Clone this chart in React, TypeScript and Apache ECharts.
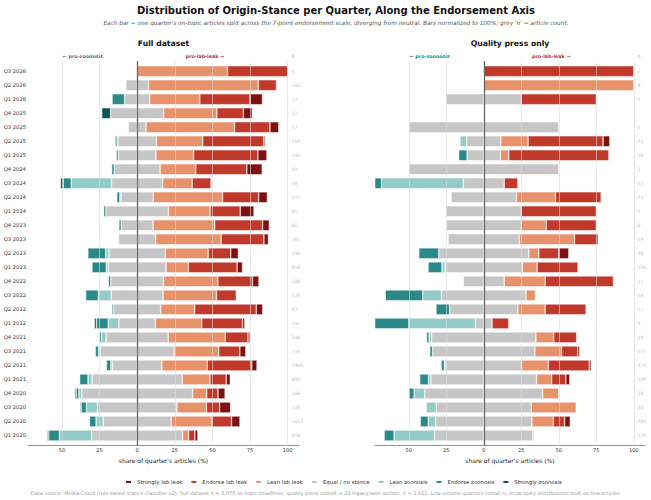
import React, { useEffect, useRef } from 'react';
import * as echarts from 'echarts';

const quarters = [
  'Q3 2026', 'Q2 2026', 'Q1 2026', 'Q4 2025', 'Q3 2025', 'Q2 2025', 'Q1 2025', 'Q4 2024', 'Q3 2024',
  'Q2 2024', 'Q1 2024', 'Q4 2023', 'Q3 2023', 'Q2 2023', 'Q1 2023', 'Q4 2022', 'Q3 2022', 'Q2 2022',
  'Q1 2022', 'Q4 2021', 'Q3 2021', 'Q2 2021', 'Q1 2021', 'Q4 2020', 'Q3 2020', 'Q2 2020', 'Q1 2020',
];

const tickValues = [-50, -25, 0, 25, 50, 75, 100];

// Full dataset (percent of quarter's articles)
const fullN = [5, 100, 12, 17, 17, 159, 145, 59, 56, 171, 65, 66, 161, 238, 818, 180, 126, 93, 141, 348, 734, 1969, 689, 106, 138, 1052, 410];
const fullStrongZoo = [0, 0, 0, 5.9, 0, 0, 0, 0, 1.8, 0, 0, 0, 0, 0, 0, 0, 0, 0, 1.4, 0, 0, 0, 0, 0.9, 0.7, 0, 0.9];
const fullEndorseZoo = [0, 0, 8.3, 0, 0, 0, 1.3, 1.7, 5.4, 2, 1.5, 1.5, 0, 11.8, 9.5, 1.6, 8.4, 1.1, 7.9, 1.3, 2.2, 2.9, 5.5, 1.9, 3.6, 4.4, 7.1];
const fullLeanZoo = [0, 0, 0, 0, 0, 2.2, 0, 0, 26.8, 0.8, 0, 0, 0.5, 2.2, 1.3, 0, 8.6, 0, 7.1, 3.1, 1.1, 1.1, 2.7, 1.9, 7.2, 4.7, 21.5];
const fullNeutral = [0, 15, 16.7, 35.3, 11.8, 25.5, 25, 30.5, 33.9, 21.4, 41.5, 21.2, 24.6, 37.5, 38.4, 35, 34.4, 31.2, 24.2, 41.3, 49, 32.8, 59.9, 73.6, 52.9, 45.2, 60.3];
const fullLeanLab = [60, 73, 33.3, 35.3, 58.8, 30.8, 25, 23.7, 19.6, 46, 27.7, 40.9, 43.5, 28.4, 14.8, 36.1, 35.5, 22.6, 30.8, 37.9, 29.7, 30.2, 18.4, 9.4, 19.6, 27.1, 4];
const fullEndorseLab = [40, 12, 33.3, 17.6, 23.5, 40.6, 42.7, 33.9, 12.5, 24, 20, 31.8, 28.4, 15, 32.4, 23, 13.1, 40.9, 27.1, 15.1, 14, 29.5, 10.8, 7.5, 8.7, 13, 4.2];
const fullStrongLab = [0, 0, 8.3, 5.9, 5.9, 0.9, 6, 10.2, 0, 5.8, 9.2, 4.5, 3, 5.1, 3.6, 4.3, 0, 4.3, 1.5, 1.3, 4, 3.5, 2.7, 4.7, 7.3, 5.6, 2];

// Quality press only
const qualN = [1, 8, 2, null, 1, 22, 18, 2, 11, 23, 2, 6, 19, 30, 194, 11, 16, 11, 9, 59, 157, 375, 190, 28, 30, 265, 122];
const qualStrongZoo = [0, 0, 0, 0, 0, 0, 0, 0, 0, 0, 0, 0, 0, 0, 0, 0, 0, 0, 0, 0, 0, 0, 0, 0, 0, 0, 0];
const qualEndorseZoo = [0, 0, 0, 0, 0, 0, 5.6, 0, 9.1, 0, 0, 0, 0, 13.3, 9.3, 0, 25, 9.1, 33.3, 1.7, 1.9, 2.1, 5.8, 3.6, 0, 5.3, 6.6];
const qualLeanZoo = [0, 0, 0, 0, 0, 4.5, 0, 0, 54.5, 0, 0, 0, 0, 0, 2.1, 0, 12.5, 0, 44.4, 1.7, 0, 1.1, 1.6, 7.1, 6.7, 4.9, 27];
const qualNeutral = [0, 0, 50, 0, 100, 22.7, 22.2, 100, 27.3, 43.5, 50, 50, 47.4, 60, 51.5, 27.3, 56.3, 45.5, 11.1, 69.5, 68.2, 50.4, 70.5, 78.6, 63.3, 64.2, 65.6];
const qualLeanLab = [0, 100, 0, 0, 0, 18.2, 5.6, 0, 0, 26.1, 0, 16.7, 36.8, 6.7, 9.8, 27.3, 6.3, 18.2, 0, 11.9, 17.8, 17.9, 10, 10.7, 30, 14.3, 0.8];
const qualEndorseLab = [100, 0, 50, 0, 0, 50, 66.7, 0, 9.1, 30.4, 50, 33.3, 15.8, 13.3, 27.3, 45.5, 0, 27.3, 11.1, 15.3, 10.8, 27.2, 9.5, 0, 0, 7.5, 0];
const qualStrongLab = [0, 0, 0, 0, 0, 4.5, 0, 0, 0, 0, 0, 0, 0, 6.7, 0, 0, 0, 0, 0, 0, 1.3, 1.3, 2.6, 0, 0, 3.8, 0];

const legendOrder = ['Strongly lab leak', 'Endorse lab leak', 'Lean lab leak', 'Equal / no stance', 'Lean zoonosis', 'Endorse zoonosis', 'Strongly zoonosis'];
const colors: Record<string, string> = {
  'Strongly lab leak': '#7c1212',
  'Endorse lab leak': '#c0392b',
  'Lean lab leak': '#e8926b',
  'Equal / no stance': '#c6c6c6',
  'Lean zoonosis': '#93cbc9',
  'Endorse zoonosis': '#2b8a89',
  'Strongly zoonosis': '#0e5252',
};

const X_MIN = -72.5;
const X_MAX = 107.5;
const N_POS = 102.5;
const FONT = '"DejaVu Sans", sans-serif';

const panels = [
  {
    title: 'Full dataset', left: 28, width: 271, showY: true, n: fullN,
    strongZoo: fullStrongZoo, endorseZoo: fullEndorseZoo, leanZoo: fullLeanZoo, neutral: fullNeutral,
    leanLab: fullLeanLab, endorseLab: fullEndorseLab, strongLab: fullStrongLab,
  },
  {
    title: 'Quality press only', left: 375, width: 270, showY: false, n: qualN,
    strongZoo: qualStrongZoo, endorseZoo: qualEndorseZoo, leanZoo: qualLeanZoo, neutral: qualNeutral,
    leanLab: qualLeanLab, endorseLab: qualEndorseLab, strongLab: qualStrongLab,
  },
];

const xPix = (p: any, v: number) => p.left + ((v - X_MIN) / (X_MAX - X_MIN)) * p.width;

function buildOption() {
  const grid: any[] = [];
  const xAxis: any[] = [];
  const yAxis: any[] = [];
  const series: any[] = [];
  const graphic: any[] = [];

  const txt = (x: number, y: number, text: string, o: any) => ({
    type: 'text', x, y, silent: true,
    style: {
      text, fontFamily: FONT, fontSize: o.size, fontWeight: o.weight || 'normal', fontStyle: o.style || 'normal',
      fill: o.color, align: o.align || 'center', textAlign: o.align || 'center',
      verticalAlign: 'middle', textVerticalAlign: 'middle',
    },
  });

  graphic.push(txt(336, 10, 'Distribution of Origin-Stance per Quarter, Along the Endorsement Axis', { size: 10, weight: 'bold', color: '#111' }));
  graphic.push(txt(336, 22.5, "Each bar = one quarter's on-topic articles split across the 7-point endorsement scale, diverging from neutral. Bars normalized to 100%; grey 'n' = article count.", { size: 5.8, style: 'italic', color: '#555' }));
  graphic.push(txt(326, 493, 'Data source: Media Cloud (rule-based stance classifier v2). Full dataset n = 8,075 on-topic headlines; quality-press subset = 23 legacy/wire outlets, n = 1,612. Low-volume quarters (small n) show spiky distributions built on few articles.', { size: 5, color: '#999' }));

  panels.forEach((p, pi) => {
    const a = pi * 2;
    const b = pi * 2 + 1;
    grid.push({ left: p.left, width: p.width, top: 64.2, height: 378.3 });
    grid.push({ left: p.left, width: p.width, top: 61, height: 384.7 });
    xAxis.push({ gridIndex: a, type: 'value', min: X_MIN, max: X_MAX, show: false });
    xAxis.push({
      gridIndex: b, type: 'value', min: X_MIN, max: X_MAX,
      axisLine: { show: true, onZero: false, lineStyle: { color: '#777', width: 0.8 } },
      axisTick: { show: false },
      splitLine: { show: false },
      axisLabel: {
        customValues: tickValues, fontSize: 5.1, color: '#333', margin: 1.5, fontFamily: FONT,
        formatter: (v: number) => String(Math.abs(v)),
      },
      name: "share of quarter's articles (%)", nameLocation: 'middle', nameGap: 8.5,
      nameTextStyle: { fontSize: 6, color: '#222', fontFamily: FONT },
    });
    yAxis.push({
      gridIndex: a, type: 'category', inverse: true, data: quarters,
      axisLine: { show: false, onZero: false }, axisTick: { show: false }, splitLine: { show: false },
      axisLabel: { show: p.showY, fontSize: 5.2, color: '#333', margin: 2, fontFamily: FONT },
    });
    yAxis.push({ gridIndex: b, type: 'value', min: 0, max: 1, show: false });

    const stack = 'stack' + pi;
    const bar = (name: string, arr: number[], f: number) => ({
      type: 'bar', name, stack, xAxisIndex: a, yAxisIndex: a,
      data: arr.map((v) => (v ? v * f : '-')),
      barCategoryGap: '22%',
      itemStyle: { color: colors[name], borderColor: '#ffffff', borderWidth: 0.5 },
      emphasis: { disabled: true },
      animation: false,
    });
    series.push(bar('Equal / no stance', p.neutral, 0.5));
    series.push(bar('Equal / no stance', p.neutral, -0.5));
    series.push(bar('Lean lab leak', p.leanLab, 1));
    series.push(bar('Lean zoonosis', p.leanZoo, -1));
    series.push(bar('Endorse lab leak', p.endorseLab, 1));
    series.push(bar('Endorse zoonosis', p.endorseZoo, -1));
    series.push(bar('Strongly lab leak', p.strongLab, 1));
    series.push(bar('Strongly zoonosis', p.strongZoo, -1));

    // article counts
    series.push({
      type: 'scatter', name: 'n' + pi, xAxisIndex: a, yAxisIndex: a, symbolSize: 0, silent: true,
      data: p.n.map((n, i) => (n == null ? null : [N_POS, i, n])).filter((d) => d),
      label: {
        show: true, position: 'right', distance: 0, fontSize: 4.6, color: '#aaa', fontFamily: FONT,
        formatter: (q: any) => String(q.value[2]),
      },
      animation: false,
    });

    // reference lines (grid + zero)
    series.push({
      type: 'scatter', name: 'frame' + pi, xAxisIndex: b, yAxisIndex: b, symbolSize: 0, silent: true,
      data: [[0, 0.5]],
      markLine: {
        silent: true, symbol: ['none', 'none'], label: { show: false }, z: 10, animation: false,
        emphasis: { disabled: true },
        data: [
          ...tickValues.filter((v) => v !== 0).map((v) => ({ xAxis: v, lineStyle: { color: 'rgba(222,222,222,0.75)', width: 0.8, type: 'solid' } })),
          { xAxis: 0, lineStyle: { color: '#666', width: 1.3, type: 'solid' } },
        ],
      },
      animation: false,
    });

    const cx = p.left + p.width / 2;
    graphic.push(txt(cx, 43.3, p.title, { size: 7.7, weight: 'bold', color: '#111' }));
    graphic.push(txt(xPix(p, -36), 56.7, '← pro-zoonosis', { size: 4.8, weight: 'bold', color: '#2b7f7f' }));
    graphic.push(txt(xPix(p, 45), 56.7, 'pro-lab-leak →', { size: 4.8, weight: 'bold', color: '#b03a2e' }));
    graphic.push(txt(xPix(p, N_POS), 56.7, 'n', { size: 4.8, color: '#aaa', align: 'left' }));
  });

  return {
    animation: false,
    backgroundColor: '#ffffff',
    textStyle: { fontFamily: FONT },
    grid, xAxis, yAxis, series, graphic,
    legend: {
      data: legendOrder, left: 119, top: 474, itemWidth: 7, itemHeight: 4, itemGap: 7, icon: 'rect',
      textStyle: { fontSize: 5.4, color: '#333', fontFamily: FONT }, selectedMode: false,
    },
  };
}

export default function App() {
  const ref = useRef<HTMLDivElement>(null);
  useEffect(() => {
    if (!ref.current) return;
    const chart = echarts.init(ref.current, undefined, { renderer: 'svg' });
    chart.setOption(buildOption() as any);
    return () => chart.dispose();
  }, []);
  return <div ref={ref} style={{ position: 'absolute', left: 0, top: 0, width: 651, height: 500, background: '#fff' }} />;
}
